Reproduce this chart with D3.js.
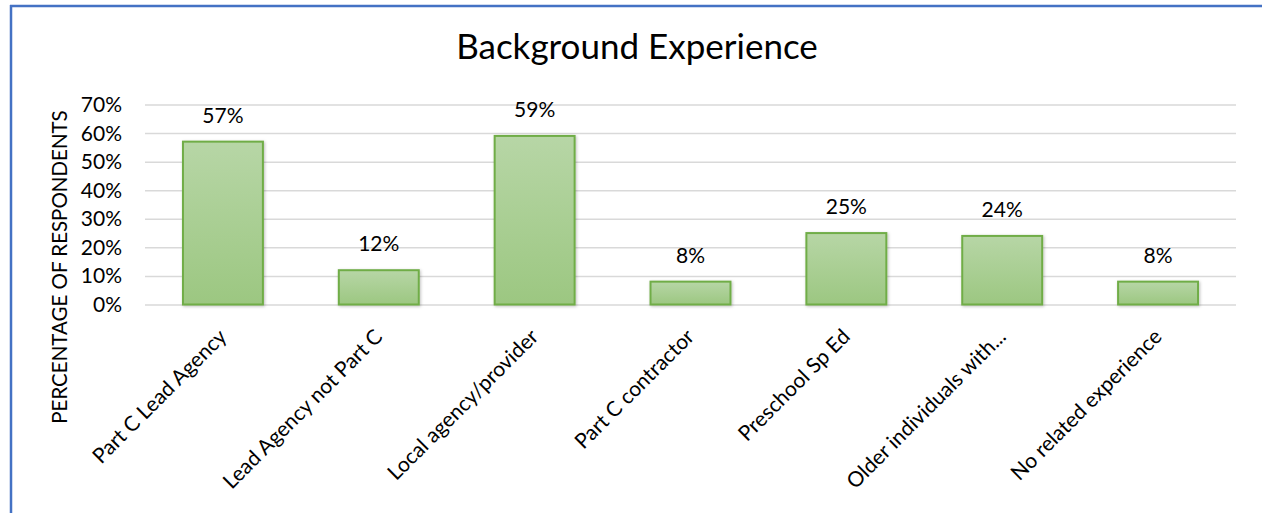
<!DOCTYPE html>
<html>
<head>
<meta charset="utf-8">
<script src="https://cdn.jsdelivr.net/npm/d3@7"></script>
<style>
  body { margin: 0; background: #fff; }
  text { font-family: Lato, 'Noto Sans', sans-serif; fill: #000; }
</style>
</head>
<body>
<div id="container"></div>
<script>
  // data
  const categories = ['Part C Lead Agency', 'Lead Agency not Part C', 'Local agency/provider',
    'Part C contractor', 'Preschool Sp Ed', 'Older individuals with...', 'No related experience']
  const values = [0.57, 0.12, 0.59, 0.08, 0.25, 0.24, 0.08]
  const yTicks = [0, 0.1, 0.2, 0.3, 0.4, 0.5, 0.6, 0.7]

  const width = 1262
  const height = 513
  const plot = { left: 145, right: 1236, top: 104.5, bottom: 304.5 }
  const fontSize = '21px'

  const svg = d3.select('#container')
    .append('svg')
    .attr('width', width)
    .attr('height', height)

  // frame
  svg.append('line')
    .attr('x1', 10).attr('x2', width).attr('y1', 6).attr('y2', 6)
    .attr('stroke', '#4472c4').attr('stroke-width', 2.5)
  svg.append('line')
    .attr('x1', 11).attr('x2', 11).attr('y1', 5).attr('y2', height)
    .attr('stroke', '#4472c4').attr('stroke-width', 2.5)

  const defs = svg.append('defs')
  const grad = defs.append('linearGradient')
    .attr('id', 'barFill')
    .attr('x1', 0).attr('y1', 0).attr('x2', 0).attr('y2', 1)
  grad.append('stop').attr('offset', '0%').attr('stop-color', '#b7d6a6')
  grad.append('stop').attr('offset', '100%').attr('stop-color', '#9cc781')

  const shadow = defs.append('filter').attr('id', 'shadow')
    .attr('x', '-10%').attr('y', '-10%').attr('width', '130%').attr('height', '130%')
  shadow.append('feDropShadow')
    .attr('dx', 1).attr('dy', 1).attr('stdDeviation', 1.5)
    .attr('flood-color', '#000').attr('flood-opacity', 0.25)

  const xScale = d3.scaleBand()
    .domain(categories)
    .range([plot.left, plot.right])
    .paddingInner(0.487)
    .paddingOuter(0.2435)

  const yScale = d3.scaleLinear()
    .domain([0, 0.7])
    .range([plot.bottom, plot.top])

  // grid lines
  svg.append('g')
    .attr('transform', `translate(${plot.left}, 0)`)
    .call(d3.axisLeft(yScale)
      .tickValues(yTicks)
      .tickSize(-(plot.right - plot.left))
      .tickFormat(''))
    .call(g => g.select('.domain').remove())
    .call(g => g.selectAll('line').attr('stroke', '#d9d9d9').attr('stroke-width', 1.5))

  // y tick labels
  svg.append('g')
    .selectAll('text')
    .data(yTicks)
    .enter()
    .append('text')
    .attr('x', 122)
    .attr('y', d => yScale(d))
    .attr('dy', '0.36em')
    .attr('text-anchor', 'end')
    .style('font-size', fontSize)
    .text(d => d3.format('.0%')(d))

  // bars
  svg.append('g')
    .selectAll('rect')
    .data(values)
    .enter()
    .append('rect')
    .attr('x', (d, i) => xScale(categories[i]))
    .attr('y', d => yScale(d))
    .attr('width', xScale.bandwidth())
    .attr('height', d => yScale(0) - yScale(d))
    .attr('fill', 'url(#barFill)')
    .attr('stroke', '#70ad47')
    .attr('stroke-width', 2)
    .attr('filter', 'url(#shadow)')

  // value labels
  svg.append('g')
    .selectAll('text')
    .data(values)
    .enter()
    .append('text')
    .attr('x', (d, i) => xScale(categories[i]) + xScale.bandwidth() / 2)
    .attr('y', d => yScale(d) - 19)
    .attr('text-anchor', 'middle')
    .style('font-size', fontSize)
    .text(d => d3.format('.0%')(d))

  // category labels
  svg.append('g')
    .selectAll('text')
    .data(categories)
    .enter()
    .append('text')
    .attr('transform', d => `translate(${xScale(d) + xScale.bandwidth() / 2 + 5}, 338) rotate(-45)`)
    .attr('text-anchor', 'end')
    .style('font-size', fontSize)
    .text(d => d)

  // axis title
  svg.append('text')
    .attr('transform', `translate(67, 267) rotate(-90)`)
    .attr('text-anchor', 'middle')
    .style('font-size', '20.5px')
    .text('PERCENTAGE OF RESPONDENTS')

  // chart title
  svg.append('text')
    .attr('x', 637)
    .attr('y', 59)
    .attr('text-anchor', 'middle')
    .style('font-size', '35px')
    .text('Background Experience')
</script>
</body>
</html>
